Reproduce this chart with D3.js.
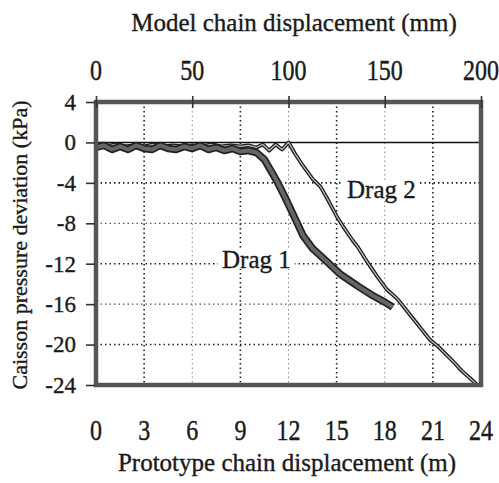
<!DOCTYPE html>
<html>
<head>
<meta charset="utf-8">
<script src="https://cdn.jsdelivr.net/npm/d3@7"></script>
<style>
  body { margin: 0; background: #fff; }
  text { font-family: "Liberation Serif", "DejaVu Serif", serif; fill: #1a1a1a; stroke: #1a1a1a; stroke-width: 0.35px; }
</style>
</head>
<body>
<div id="chart"></div>
<script>
const yTicks = [4, 0, -4, -8, -12, -16, -20, -24];
const bottomTicks = [0, 3, 6, 9, 12, 15, 18, 21, 24];
const topTicks = [0, 50, 100, 150, 200];

// Drag 1: prototype displacement (m) vs pressure deviation (kPa)
const drag1X = [0, 0.5, 1, 1.5, 2, 2.5, 3, 3.5, 4, 4.5, 5, 5.5, 6, 6.5, 7, 7.5, 8, 8.5, 9, 9.5, 10, 10.5, 11.3, 11.9, 12.4, 12.9, 13.5, 14.4, 15.2, 16.3, 17.3, 18.0, 18.5];
const drag1Y = [-0.5, -0.3, -0.7, -0.4, -0.7, -0.3, -0.6, -0.7, -0.3, -0.6, -0.7, -0.4, -0.6, -0.3, -0.7, -0.5, -0.8, -0.6, -0.9, -0.8, -1.0, -1.7, -3.9, -5.8, -7.5, -9.2, -10.5, -11.8, -13.0, -14.2, -15.2, -15.8, -16.3];

// Drag 2
const drag2X = [0, 0.6, 1.2, 1.8, 2.4, 3, 3.6, 4.2, 4.8, 5.4, 6, 6.6, 7.2, 7.8, 8.4, 9, 9.5, 10, 10.4, 10.8, 11.2, 11.6, 12.0, 12.4, 12.9, 13.5, 14.0, 14.5, 15.0, 15.4, 16.0, 16.3, 16.9, 17.5, 18.1, 18.8, 19.4, 19.8, 20.3, 20.8, 21.4, 21.9, 22.4, 22.8, 23.3, 23.7];
const drag2Y = [-0.3, -0.4, -0.2, -0.4, -0.3, -0.4, -0.2, -0.4, -0.3, -0.4, -0.3, -0.4, -0.2, -0.4, -0.3, -0.4, -0.3, -0.5, -0.2, -0.8, -0.2, -0.7, 0, -1.1, -2.3, -3.6, -4.4, -5.8, -7.3, -8.3, -9.7, -10.3, -11.8, -13.2, -14.5, -15.5, -16.7, -17.5, -18.5, -19.5, -20.3, -21.1, -21.9, -22.6, -23.3, -23.9];

const width = 499, height = 483;
const margin = {top: 102, right: 18, bottom: 98, left: 96};

const svg = d3.select('#chart').append('svg')
  .attr('width', width)
  .attr('height', height);

svg.append('rect').attr('width', width).attr('height', height).attr('fill', '#fff');

const x = d3.scaleLinear().domain([0, 24]).range([margin.left, width - margin.right]);
const xTop = d3.scaleLinear().domain([0, 200]).range([margin.left, width - margin.right]);
const y = d3.scaleLinear().domain([-24, 4]).range([height - margin.bottom, margin.top]);

// dotted grid
const grid = svg.append('g');
grid.selectAll('.vg')
  .data(bottomTicks.filter(d => d > 0 && d < 24))
  .enter().append('line')
  .attr('x1', d => x(d)).attr('x2', d => x(d))
  .attr('y1', y(4)).attr('y2', y(-24))
  .attr('stroke', (d, i) => i % 2 ? '#888' : '#222')
  .attr('stroke-width', (d, i) => i % 2 ? 1 : 1.6)
  .attr('stroke-dasharray', '1.5,3');

grid.selectAll('.hg')
  .data(yTicks.filter(d => d < 0 && d > -24))
  .enter().append('line')
  .attr('x1', x(0)).attr('x2', x(24))
  .attr('y1', d => y(d)).attr('y2', d => y(d))
  .attr('stroke', (d, i) => i % 2 ? '#555' : '#222')
  .attr('stroke-width', (d, i) => i % 2 ? 1.2 : 1.6)
  .attr('stroke-dasharray', '1.5,3');

// zero line
svg.append('line')
  .attr('x1', x(0)).attr('x2', x(24))
  .attr('y1', y(0)).attr('y2', y(0))
  .attr('stroke', '#111').attr('stroke-width', 1.5);

// series labels with white boxes under them
function label(txt, lx, ly) {
  const t = svg.append('text')
    .attr('x', lx).attr('y', ly)
    .style('font-size', '25px')
    .text(txt);
  const b = t.node().getBBox();
  svg.insert('rect', 'text')
    .attr('x', b.x - 4).attr('y', b.y + 4)
    .attr('width', b.width + 8).attr('height', b.height - 8)
    .attr('fill', '#fff');
}

label('Drag 1', 222, 268);
label('Drag 2', 347, 198);

// lines
const line = d3.line().x(d => x(d[0])).y(d => y(d[1]));
const d1 = drag1X.map((v, i) => [v, drag1Y[i]]);
const d2 = drag2X.map((v, i) => [v, drag2Y[i]]);

svg.append('path').attr('d', line(d2)).attr('fill', 'none')
  .attr('stroke', '#1a1a1a').attr('stroke-width', 3.8).attr('stroke-linejoin', 'round');
svg.append('path').attr('d', line(d2)).attr('fill', 'none')
  .attr('stroke', '#bbb').attr('stroke-width', 1.3).attr('stroke-linejoin', 'round');

svg.append('path').attr('d', line(d1)).attr('fill', 'none')
  .attr('stroke', '#222').attr('stroke-width', 7.5).attr('stroke-linejoin', 'round');
svg.append('path').attr('d', line(d1)).attr('fill', 'none')
  .attr('stroke', '#666').attr('stroke-width', 4).attr('stroke-linejoin', 'round');

// frame
svg.append('rect')
  .attr('x', x(0)).attr('y', y(4))
  .attr('width', x(24) - x(0)).attr('height', y(-24) - y(4))
  .attr('fill', 'none').attr('stroke', '#555').attr('stroke-width', 4.5);

// left axis
const yAxis = d3.axisLeft(y).tickValues(yTicks).tickSize(9).tickFormat(d => String(d)).tickPadding(10);
const yG = svg.append('g').attr('transform', `translate(${x(0) - 1},0)`).call(yAxis);
yG.select('.domain').remove();
yG.selectAll('line').attr('stroke', '#333').attr('stroke-width', 1.6);
yG.selectAll('text').style('font-size', '23px').style('font-family', '"Liberation Serif", serif').attr('fill', '#1a1a1a');

// top axis ticks (crossing the frame)
const topAxis = d3.axisTop(xTop).tickValues(topTicks).tickSize(6).tickFormat('');
const tG = svg.append('g').attr('transform', `translate(0,${y(4)})`).call(topAxis);
tG.select('.domain').remove();
tG.selectAll('line').attr('stroke', '#333').attr('stroke-width', 1.6).attr('y1', 6);

// tick labels, slightly tall like the scan
svg.append('g').selectAll('text')
  .data(topTicks)
  .enter().append('text')
  .attr('transform', d => `translate(${xTop(d)},80) scale(1,1.2)`)
  .attr('text-anchor', 'middle')
  .style('font-size', '24px')
  .text(d => d);

svg.append('g').selectAll('text')
  .data(bottomTicks)
  .enter().append('text')
  .attr('transform', d => `translate(${x(d)},440) scale(1,1.2)`)
  .attr('text-anchor', 'middle')
  .style('font-size', '24px')
  .text(d => d);

// titles
svg.append('text')
  .attr('x', 294).attr('y', 31)
  .attr('text-anchor', 'middle')
  .style('font-size', '25px')
  .text('Model chain displacement (mm)');

svg.append('text')
  .attr('x', 287).attr('y', 471)
  .attr('text-anchor', 'middle')
  .style('font-size', '25px')
  .text('Prototype chain displacement (m)');

svg.append('text')
  .attr('transform', 'rotate(-90)')
  .attr('x', -245).attr('y', 27)
  .attr('text-anchor', 'middle')
  .style('font-size', '22px')
  .text('Caisson pressure deviation (kPa)');
</script>
</body>
</html>
